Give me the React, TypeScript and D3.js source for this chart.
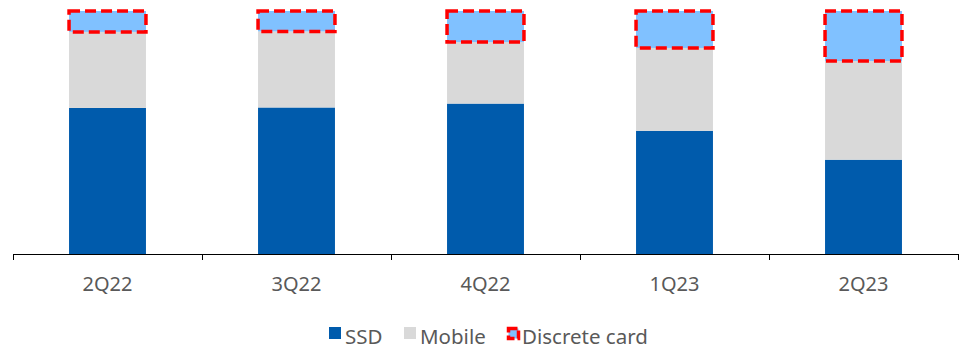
import React, { useEffect, useRef } from 'react'
import * as d3 from 'd3'

const quarters = ['2Q22', '3Q22', '4Q22', '1Q23', '2Q23']
const ssd = [60.1, 60.3, 61.9, 50.7, 38.8]
const mobile = [31.3, 31.3, 25.3, 34.1, 40.6]
const discrete = [8.6, 8.4, 12.8, 15.2, 20.6]
const seriesNames = ['SSD', 'Mobile', 'Discrete card']

const width = 964
const height = 351

export default function App() {
    const ref = useRef<SVGSVGElement | null>(null)

    function draw() {
        const svg = d3.select(ref.current)
        svg.selectAll('*').remove()

        const font = "'Noto Sans', 'Open Sans', sans-serif"
        const x = d3.scaleBand<string>()
            .domain(quarters)
            .range([13, 958])
            .paddingInner(0.593)
            .paddingOuter(0.2965)
        const y = d3.scaleLinear().domain([0, 100]).range([254, 11])

        const rows = quarters.map((q, i) => ({ q, SSD: ssd[i], Mobile: mobile[i], 'Discrete card': discrete[i] }))
        const stack = d3.stack<any>().keys(seriesNames)(rows)
        const colors: any = { 'SSD': '#005BAC', 'Mobile': '#D9D9D9', 'Discrete card': '#80C1FF' }

        const g = svg.append('g')
        stack.forEach(layer => {
            g.selectAll(null)
                .data(layer)
                .enter().append('rect')
                .attr('x', (d: any) => x(d.data.q)!)
                .attr('width', x.bandwidth())
                .attr('y', (d: any) => y(d[1]))
                .attr('height', (d: any) => y(d[0]) - y(d[1]))
                .attr('fill', colors[layer.key])
        })

        // red dashed outline around the discrete card segment
        const top = stack[2]
        g.selectAll(null)
            .data(top)
            .enter().append('rect')
            .attr('x', (d: any) => x(d.data.q)!)
            .attr('width', x.bandwidth())
            .attr('y', (d: any) => y(d[1]))
            .attr('height', (d: any) => y(d[0]) - y(d[1]))
            .attr('fill', 'none')
            .attr('stroke', '#FF0000')
            .attr('stroke-width', 3.5)
            .attr('stroke-dasharray', '11,5')

        // axis
        const step = x.step()
        const ax = svg.append('g')
        ax.append('line')
            .attr('x1', 13).attr('x2', 958)
            .attr('y1', 254.5).attr('y2', 254.5)
            .attr('stroke', '#000').attr('stroke-width', 1)
        d3.range(quarters.length + 1).forEach(i => {
            const tx = Math.round(13 + i * step) + 0.5
            ax.append('line')
                .attr('x1', tx).attr('x2', tx)
                .attr('y1', 254).attr('y2', 260)
                .attr('stroke', '#000').attr('stroke-width', 1)
        })
        ax.selectAll(null)
            .data(quarters)
            .enter().append('text')
            .attr('x', d => x(d)! + x.bandwidth() / 2)
            .attr('y', 291)
            .attr('text-anchor', 'middle')
            .attr('font-family', font)
            .attr('font-size', 20)
            .attr('fill', '#595959')
            .text(d => d)

        // legend
        const legend = svg.append('g')
        const items = [
            { name: 'SSD', x: 329, tx: 345 },
            { name: 'Mobile', x: 404, tx: 420 },
            { name: 'Discrete card', x: 507, tx: 522 },
        ]
        items.forEach(it => {
            if (it.name === 'Discrete card') {
                legend.append('rect')
                    .attr('x', it.x + 1.5).attr('y', 328.5)
                    .attr('width', 10).attr('height', 10)
                    .attr('fill', colors[it.name])
                    .attr('stroke', '#FF0000').attr('stroke-width', 3.5)
                    .attr('stroke-dasharray', '9,3')
            } else {
                legend.append('rect')
                    .attr('x', it.x).attr('y', 327)
                    .attr('width', 12).attr('height', 12)
                    .attr('fill', colors[it.name])
            }
            legend.append('text')
                .attr('x', it.tx)
                .attr('y', 344)
                .attr('font-family', font)
                .attr('font-size', 20.5)
                .attr('fill', '#595959')
                .text(it.name)
        })
    }

    useEffect(() => {
        draw()
    }, [])

    return (
        <div style={{ position: 'absolute', left: 0, top: 0 }}>
            <svg ref={ref} width={width} height={height} style={{ display: 'block' }} />
        </div>
    )
}
